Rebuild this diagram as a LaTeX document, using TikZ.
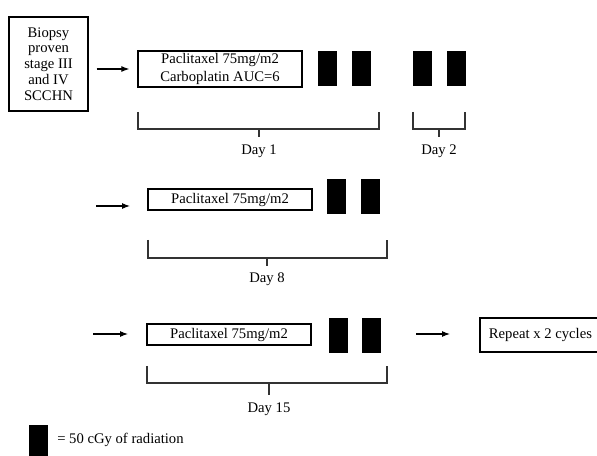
\documentclass[tikz,border=0pt]{standalone}
\usepackage{fontspec}
\setmainfont{Liberation Serif}
\usetikzlibrary{arrows.meta}
\begin{document}
\begin{tikzpicture}[x=0.75pt,y=-0.75pt,
  txt/.style={font=\fontsize{11}{12}\selectfont, inner sep=0pt},
  drugbox/.style={draw, line width=1pt, minimum width=123pt, inner sep=0pt, align=center, font=\fontsize{11}{13}\selectfont},
  rad/.style={fill=black, draw=none, minimum width=14.25pt, minimum height=26.25pt, inner sep=0pt},
  arr/.style={line width=0.8pt, -{Latex[length=6pt,width=4.5pt]}},
  brk/.style={line width=0.9pt, draw=black!80}]
\useasboundingbox (0,0) rectangle (597,456);
% Row 1
\node[draw, line width=1pt, minimum width=59.25pt, minimum height=70.5pt, align=center,
      font=\fontsize{11}{11.9}\selectfont, inner sep=0pt] (biopsy) at (48.5,64)
      {Biopsy\\proven\\stage III\\and IV\\SCCHN};
\node[drugbox, minimum height=27pt] (p1) at (220,69) {Paclitaxel 75mg/m2\\Carboplatin AUC=6};
\draw[arr, shorten <=6pt, shorten >=6pt] (biopsy.east |- p1.west) -- (p1.west);
\node[rad] (r1a) at (327.5,68.5) {};
\node[rad] (r1b) at (361.5,68.5) {};
\node[rad] (r1c) at (422,68.5) {};
\node[rad] (r1d) at (456,68.5) {};
\draw[brk] (138,112) -- (138,129) -- (379,129) -- (379,112);
\draw[brk] (259,129) -- (259,137);
\node[txt] (d1) at (259,151) {Day 1};
\draw[brk] (413,112) -- (413,129) -- (465,129) -- (465,112);
\draw[brk] (439,129) -- (439,137);
\node[txt] (d2) at (439,151) {Day 2};
% Row 2
\node[drugbox, minimum height=15.75pt] (p2) at (230,199.5) {Paclitaxel 75mg/m2};
\coordinate (s2) at (96,206);
\draw[arr] (s2) -- (130,206);
\node[rad] (r2a) at (336,197) {};
\node[rad] (r2b) at (370,197) {};
\draw[brk] (148,240) -- (148,258) -- (387,258) -- (387,240);
\draw[brk] (267,258) -- (267,266);
\node[txt] (d8) at (267,279) {Day 8};
% Row 3
\node[drugbox, minimum height=15.75pt] (p3) at (229,334.5) {Paclitaxel 75mg/m2};
\coordinate (s3) at (93,334);
\draw[arr] (s3) -- (128,334);
\node[rad] (r3a) at (338.5,335.5) {};
\node[rad] (r3b) at (371,335.5) {};
\draw[brk] (147,366) -- (147,383) -- (387,383) -- (387,366);
\draw[brk] (269,383) -- (269,395);
\node[txt] (d15) at (269,409) {Day 15};
\node[anchor=west, minimum height=25pt, inner sep=0pt,
      font=\fontsize{11}{12}\selectfont] (rep) at (480,335)
      {\makebox[90pt][l]{\hspace{6.5pt}Repeat x 2 cycles}};
\draw[line width=1pt] (rep.north east) -- (rep.north west) -- (rep.south west) -- (rep.south east);
\coordinate (s4) at (416,334);
\draw[arr] (s4) -- (450,334);
% Legend
\node[rad, anchor=north west] (leg) at (29,425) {};
\node[txt, anchor=west] (legt) at (57,440) {= 50 cGy of radiation};
\end{tikzpicture}
\end{document}
